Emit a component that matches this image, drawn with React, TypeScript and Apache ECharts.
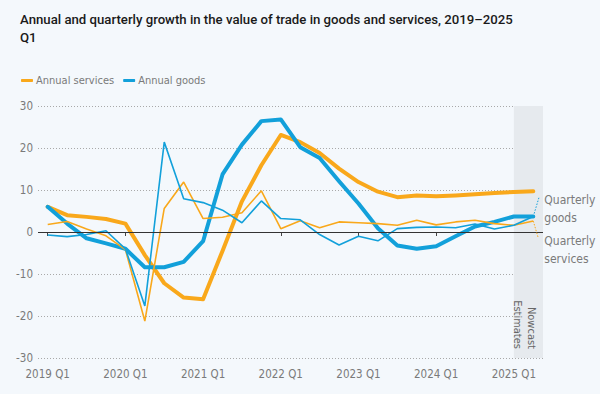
import React, { useEffect, useRef } from "react";
import * as echarts from "echarts";

const categories = [
  "2019 Q1", "2019 Q2", "2019 Q3", "2019 Q4",
  "2020 Q1", "2020 Q2", "2020 Q3", "2020 Q4",
  "2021 Q1", "2021 Q2", "2021 Q3", "2021 Q4",
  "2022 Q1", "2022 Q2", "2022 Q3", "2022 Q4",
  "2023 Q1", "2023 Q2", "2023 Q3", "2023 Q4",
  "2024 Q1", "2024 Q2", "2024 Q3", "2024 Q4",
  "2025 Q1", "2025 Q2",
];

const annualServices = [6.0, 4.0, 3.6, 3.1, 2.0, -5.5, -12.2, -15.6, -16.0, -4.5, 7.3, 15.9, 23.1, 21.4, 18.8, 15.1, 11.9, 9.6, 8.3, 8.7, 8.5, 8.7, 9.0, 9.3, 9.5, 9.7];
const annualGoods = [6.0, 2.0, -1.5, -2.7, -4.0, -8.4, -8.4, -7.1, -2.2, 13.7, 20.8, 26.4, 26.8, 20.2, 17.6, 12.1, 6.8, 0.9, -3.2, -4.0, -3.4, -1.0, 1.3, 2.4, 3.7, 3.7];
const quarterlyServices = [1.8, 2.5, 0.7, -0.9, -4.2, -21.2, 5.6, 11.9, 3.2, 3.5, 4.6, 9.8, 0.8, 2.7, 1.0, 2.4, 2.2, 2.0, 1.6, 2.8, 1.7, 2.4, 2.8, 2.0, 1.6, 2.6];
const quarterlyGoods = [-0.7, -1.1, -0.6, 0.3, -4.0, -17.6, 21.4, 7.9, 7.0, 5.2, 2.2, 7.4, 3.2, 2.9, -0.6, -3.1, -1.0, -2.1, 0.8, 1.1, 1.2, 1.0, 1.9, 0.7, 1.6, 3.7];

const yMin = -30;
const yMax = 30;
const yStep = 10;
const nowcastStartIndex = 24;

const TITLE = "Annual and quarterly growth in the value of trade in goods and services, 2019–2025\nQ1";
const FONT = "'DejaVu Sans Condensed', 'Liberation Sans Narrow', sans-serif";
const ORANGE = "#F9A81B";
const BLUE = "#12A0DA";
const GRAY = "#7a7a7a";

export default function App() {
  const ref = useRef<HTMLDivElement>(null);

  useEffect(() => {
    const chart = echarts.init(ref.current!, null, { renderer: "svg" });
    chart.setOption({
      animation: false,
      backgroundColor: "#F4F8FC",
      title: {
        text: TITLE,
        left: 15,
        top: 5,
        textStyle: {
          fontFamily: "Roboto",
          fontWeight: 500,
          fontSize: 13.2,
          lineHeight: 18,
          color: "#1a1a1a",
        },
      },
      legend: {
        data: ["Annual services", "Annual goods"],
        left: 16,
        top: 70,
        icon: "roundRect",
        itemWidth: 12,
        itemHeight: 3,
        itemGap: 9,
        textStyle: { fontFamily: FONT, fontSize: 11, color: GRAY, padding: [0, 0, 0, -2] },
      },
      grid: { left: 38, right: 57, top: 106, bottom: 36, containLabel: false, outerBoundsMode: "none" },
      xAxis: [
        {
          type: "category",
          data: categories,
          boundaryGap: true,
          axisLine: { show: false },
          axisTick: {
            show: true,
            interval: 3,
            alignWithLabel: true,
            length: 4,
            lineStyle: { color: "#444", width: 1 },
          },
          axisLabel: { interval: 3, margin: 10, color: GRAY, fontFamily: FONT, fontSize: 11.5 },
          splitLine: { show: false },
        },
        { type: "value", min: -0.5, max: categories.length - 0.5, show: false },
      ],
      yAxis: {
        type: "value",
        min: yMin,
        max: yMax,
        interval: yStep,
        axisLine: { show: false },
        axisTick: { show: false },
        axisLabel: { margin: 5, color: GRAY, fontFamily: FONT, fontSize: 11.5 },
        splitLine: { lineStyle: { type: [1, 2], color: "#a9a9a9", width: 1 } },
      },
      series: [
        {
          type: "line",
          xAxisIndex: 1,
          data: [[nowcastStartIndex, 0]],
          symbol: "none",
          lineStyle: { opacity: 0 },
          silent: true,
          markArea: {
            silent: true,
            itemStyle: { color: "#E6EAEE" },
            data: [[{ xAxis: nowcastStartIndex }, { xAxis: categories.length - 0.5 }]],
          },
          markLine: {
            silent: true,
            symbol: "none",
            label: { show: false },
            lineStyle: { color: "#333", width: 1, type: "solid" },
            data: [{ yAxis: 0 }],
          },
        },
        {
          name: "Annual services",
          type: "line",
          data: annualServices,
          symbol: "none",
          color: ORANGE,
          lineStyle: { width: 4, color: ORANGE, cap: "round", join: "round" },
        },
        {
          name: "Annual goods",
          type: "line",
          data: annualGoods,
          symbol: "none",
          color: BLUE,
          lineStyle: { width: 4, color: BLUE, cap: "round", join: "round" },
        },
        {
          name: "Quarterly services",
          type: "line",
          data: quarterlyServices,
          symbol: "none",
          color: ORANGE,
          lineStyle: { width: 1.6, color: ORANGE },
        },
        {
          name: "Quarterly goods",
          type: "line",
          data: quarterlyGoods,
          symbol: "none",
          color: BLUE,
          lineStyle: { width: 1.6, color: BLUE },
        },
      ],
    });

    const last = categories.length - 1;
    const pG = chart.convertToPixel({ seriesIndex: 4 }, [last, quarterlyGoods[last]]) as number[];
    const pS = chart.convertToPixel({ seriesIndex: 3 }, [last, quarterlyServices[last]]) as number[];
    const pN = chart.convertToPixel({ seriesIndex: 1 }, [nowcastStartIndex, yMin]) as number[];
    const noteStyle = { fontFamily: FONT, fontSize: 12, lineHeight: 18, fill: GRAY };

    chart.setOption({
      graphic: [
        {
          type: "line",
          silent: true,
          z: 100,
          shape: { x1: pG[0], y1: pG[1], x2: pG[0] + 6, y2: pG[1] - 20 },
          style: { stroke: BLUE, lineWidth: 1, lineDash: [1.5, 1.5] },
        },
        {
          type: "line",
          silent: true,
          z: 100,
          shape: { x1: pS[0], y1: pS[1], x2: pS[0] + 5, y2: pS[1] + 17 },
          style: { stroke: ORANGE, lineWidth: 1, lineDash: [1.5, 1.5] },
        },
        {
          type: "text",
          z: 100,
          x: pG[0] + 11,
          y: pG[1] - 25,
          style: { text: "Quarterly\ngoods", ...noteStyle, align: "left", verticalAlign: "top" },
        },
        {
          type: "text",
          z: 100,
          x: pS[0] + 11,
          y: pS[1] + 11,
          style: { text: "Quarterly\nservices", ...noteStyle, align: "left", verticalAlign: "top" },
        },
        {
          type: "text",
          z: 100,
          x: pN[0] + 3.5,
          y: pN[1] - 9,
          rotation: -Math.PI / 2,
          style: { text: "Estimates", fontFamily: FONT, fontSize: 11, fill: "#666", align: "right", verticalAlign: "middle" },
        },
        {
          type: "text",
          z: 100,
          x: pN[0] + 18,
          y: pN[1] - 9,
          rotation: -Math.PI / 2,
          style: { text: "Nowcast", fontFamily: FONT, fontSize: 11, fill: "#666", align: "right", verticalAlign: "middle" },
        },
      ],
    });

    return () => chart.dispose();
  }, []);

  return <div ref={ref} style={{ width: 600, height: 394, position: "absolute", left: 0, top: 0 }} />;
}
